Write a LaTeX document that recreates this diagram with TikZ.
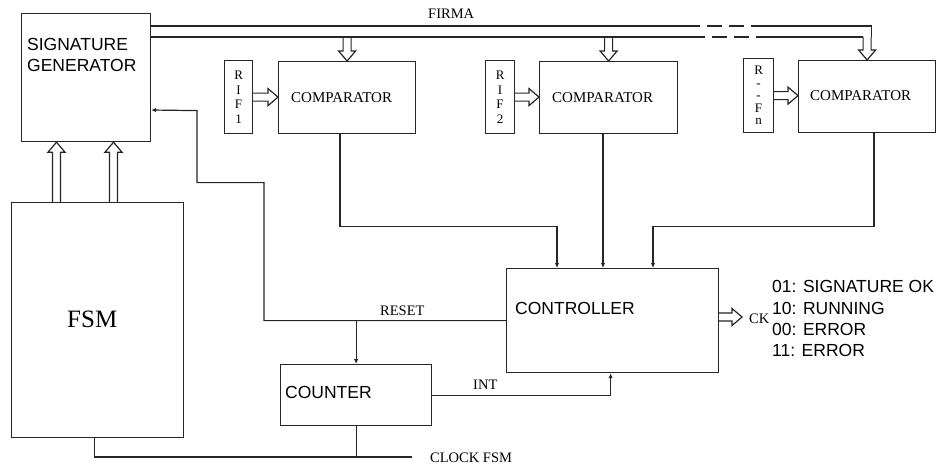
\documentclass[tikz,border=0pt]{standalone}
\usepackage{fontspec}
\setmainfont{Liberation Serif}
\newfontfamily\sansf{Liberation Sans}
\usetikzlibrary{calc,arrows.meta}
\tikzset{
 box/.style={draw=black!85, line width=1.2pt, anchor=north west, inner sep=0pt},
 wire/.style={draw=black!85, line width=1.2pt},
 sig/.style={wire, -{Latex[length=5pt,width=4.5pt]}},
 buswire/.style={wire, dash pattern=on 15pt off 7pt},
 harrow/.style={draw=black!85, line width=1.2pt, line join=miter},
 slab/.style={font=\sansf\fontsize{17.5}{21}\selectfont, anchor=base west, inner sep=0pt},
 rlab/.style={font=\fontsize{14.5}{16}\selectfont, anchor=base west, inner sep=0pt},
 cmplab/.style={font=\fontsize{15}{16}\selectfont, anchor=base west, inner sep=0pt},
 riflab/.style={font=\fontsize{13}{14.5}\selectfont, align=center, inner sep=0pt},
}
\newcommand\hollowarr[2]{%
 \draw[harrow] let \p1=(#1), \p2=(#2), \n1={atan2(\y2-\y1,\x2-\x1)},
   \p3=($(\p2)+(\n1+180:10pt)$) in
 ($(\p1)+(\n1+90:4pt)$) -- ($(\p3)+(\n1+90:4pt)$) -- ($(\p3)+(\n1+90:8.5pt)$) -- (\p2)
 -- ($(\p3)+(\n1-90:8.5pt)$) -- ($(\p3)+(\n1-90:4pt)$) -- ($(\p1)+(\n1-90:4pt)$);}
\begin{document}
\begin{tikzpicture}[x=1pt,y=-1pt]
\fill[white] (0,0) rectangle (936,466);
\useasboundingbox (0,0) rectangle (936,466);
% boxes
\node[box, minimum width=129pt, minimum height=128pt] (sg) at (21,13) {};
\node[box, minimum width=172pt, minimum height=235pt] (fsm) at (11,202) {};
\node[box, minimum width=28pt, minimum height=73pt] (rif1) at (224,60) {};
\node[box, minimum width=137pt, minimum height=72pt] (comp1) at (278,61) {};
\node[box, minimum width=29pt, minimum height=73pt] (rif2) at (485,60) {};
\node[box, minimum width=138pt, minimum height=72pt] (comp2) at (539,61) {};
\node[box, minimum width=30pt, minimum height=74pt] (rifn) at (743,58) {};
\node[box, minimum width=137pt, minimum height=72pt] (comp3) at (798,60) {};
\node[box, minimum width=212pt, minimum height=104pt] (ctrl) at (506,268) {};
\node[box, minimum width=151pt, minimum height=61pt] (cnt) at (280,364) {};
% texts
\node[slab] (sgt1) at (27,50) {SIGNATURE};
\node[slab] (sgt2) at (27,71) {GENERATOR};
\node[slab] (ctrlt) at (515,314) {CONTROLLER};
\node[slab] (cntt) at (285,398) {COUNTER};
\node[slab] (l1) at (772,292) {01: SIGNATURE OK};
\node[slab] (l2) at (772,314) {10: RUNNING};
\node[slab] (l3) at (772,335) {00: ERROR};
\node[slab] (l4) at (772,356) {11: ERROR};
\node[font=\fontsize{25}{30}\selectfont, anchor=base west, inner sep=0pt] (fsmt) at (67,327) {FSM};
\node[cmplab] (c1t) at (291,102) {COMPARATOR};
\node[cmplab] (c2t) at (552,102) {COMPARATOR};
\node[cmplab] (c3t) at (810,100) {COMPARATOR};
\node[riflab] (r1t) at (rif1.center) {R\\I\\F\\1};
\node[riflab] (r2t) at (rif2.center) {R\\I\\F\\2};
\node[riflab, font=\fontsize{13}{12.5}\selectfont] (rnt) at (rifn.center) {R\\-\\-\\F\\n};
\node[rlab] (firma) at (428,18) {FIRMA};
\node[rlab] (reset) at (380,315) {RESET};
\node[rlab] (int) at (473,389) {INT};
% bus
\coordinate (bt) at ($(sg.north east)+(0,13)$);
\coordinate (bl) at ($(sg.north east)+(0,24)$);
\draw[wire] (bt) -- (685,26);
\draw[buswire] (685,26) -- (763,26);
\draw[wire] (763,26) -| ($(comp3.north |- bl)+(4,0)$);
\draw[wire] (bl) -- (690,37);
\draw[buswire] (690,37) -- (760,37);
\draw[wire] (760,37) -- ($(comp3.north |- bl)+(-4,0)$);
\hollowarr{comp1.north |- bl}{comp1.north}
\hollowarr{comp2.north |- bl}{comp2.north}
\hollowarr{comp3.north |- bl}{comp3.north}
% register arrows
\hollowarr{rif1.east}{comp1.west |- rif1.east}
\hollowarr{rif2.east}{comp2.west |- rif2.east}
\hollowarr{rifn.east}{comp3.west |- rifn.east}
% fsm to signature generator
\hollowarr{$(fsm.north west)+(45.5,0)$}{$(sg.south west)+(35.5,0)$}
\hollowarr{$(fsm.north west)+(102.5,0)$}{$(sg.south west)+(92.5,0)$}
% comparators to controller
\draw[sig] ($(comp1.south west)+(62,0)$) -- ++(0,92) -| ($(ctrl.north west)+(51,0)$);
\draw[sig] ($(comp2.south west)+(64,0)$) -- ($(ctrl.north west)+(97,0)$);
\draw[sig] ($(comp3.south west)+(76,0)$) -- ++(0,93) -| ($(ctrl.north west)+(147,0)$);
% reset feedback
\draw[sig] (ctrl.west) -- ++(-242,0) -- ++(0,-138) -- ++(-67,0) -- ++(0,-72) -- ($(sg.north east)+(0,97)$);
\draw[sig] (cnt.north |- ctrl.west) -- (cnt.north);
% int
\draw[sig] (cnt.east) -| ($(ctrl.south)+(-2,0)$);
% clock
\coordinate (clk) at (412,457);
\draw[wire] ($(fsm.south)+(-3,0)$) |- (clk);
\draw[wire] (cnt.south) -- (cnt.south |- clk);
\node[rlab] (clkt) at (430,462) {CLOCK FSM};
% CK output
\coordinate (cko) at (742,317);
\hollowarr{ctrl.east |- cko}{cko}
\node[rlab] (ckt) at (749,323) {CK};
\end{tikzpicture}
\end{document}
